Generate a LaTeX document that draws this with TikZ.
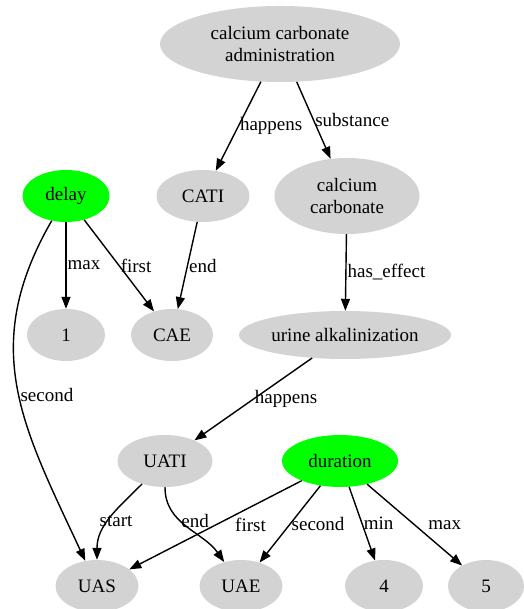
\documentclass[tikz,border=0pt]{standalone}
\usepackage{fontspec}
\setmainfont{Liberation Serif}
\usetikzlibrary{shapes.geometric,arrows.meta}
\definecolor{nodegray}{HTML}{D3D3D3}
\definecolor{nodegreen}{HTML}{00FF00}

\begin{document}
\begin{tikzpicture}[x=1pt,y=1pt,font=\rmfamily\fontsize{19}{22}\selectfont,
    gnode/.style={ellipse,fill=nodegray,inner sep=0pt,align=center},
    vnode/.style={ellipse,fill=nodegreen,inner sep=0pt},
    lbl/.style={anchor=west,inner sep=1pt},
    every edge/.style={draw,-{Triangle[length=12pt,width=9pt]},line width=1.4pt}]
    \useasboundingbox (0,0) rectangle (523,609);
    \node[gnode,minimum width=240,minimum height=76] (N0) at (280,565) {calcium carbonate\\administration};
    \node[gnode,minimum width=93,minimum height=52] (N1) at (203,413) {CATI};
    \node[gnode,minimum width=145,minimum height=76] (N2) at (347,413) {calcium\\carbonate};
    \node[vnode,minimum width=87,minimum height=52] (N3) at (66,413) {delay};
    \node[gnode,minimum width=78,minimum height=52] (N4) at (66,274) {1};
    \node[gnode,minimum width=82,minimum height=52] (N5) at (172,274) {CAE};
    \node[gnode,minimum width=212,minimum height=48] (N6) at (345,274) {urine alkalinization};
    \node[gnode,minimum width=95,minimum height=52] (N7) at (165,148) {UATI};
    \node[vnode,minimum width=116,minimum height=52] (N8) at (340,148) {duration};
    \node[gnode,minimum width=83,minimum height=52] (N9) at (97,23) {UAS};
    \node[gnode,minimum width=83,minimum height=52] (N10) at (241,23) {UAE};
    \node[gnode,minimum width=78,minimum height=52] (N11) at (384,23) {4};
    \node[gnode,minimum width=76,minimum height=52] (N12) at (486,23) {5};
    \path (N0) edge node[lbl] {happens} (N1) (N0) edge node[lbl] {substance} (N2);
    \path (N1) edge node[lbl] {end} (N5) (N2) edge node[lbl] {has\_effect} (N6);
    \path (N3) edge node[lbl] {max} (N4) (N3) edge node[lbl] {first} (N5);
    \path (N3) edge[out=240,in=115,looseness=1.1] node[lbl,pos=0.52] {second} (N9);
    \path (N6) edge node[lbl] {happens} (N7);
    \path (N7) edge[out=225,in=90] node[lbl,pos=0.55,xshift=-10] {start} (N9);
    \path (N7) edge[out=270,in=125] node[lbl,pos=0.4] {end} (N10);
    \path (N8) edge node[lbl,xshift=18] {first} (N9) (N8) edge node[lbl] {second} (N10);
    \path (N8) edge node[lbl] {min} (N11) (N8) edge node[lbl,xshift=12] {max} (N12);
\end{tikzpicture}
\end{document}
